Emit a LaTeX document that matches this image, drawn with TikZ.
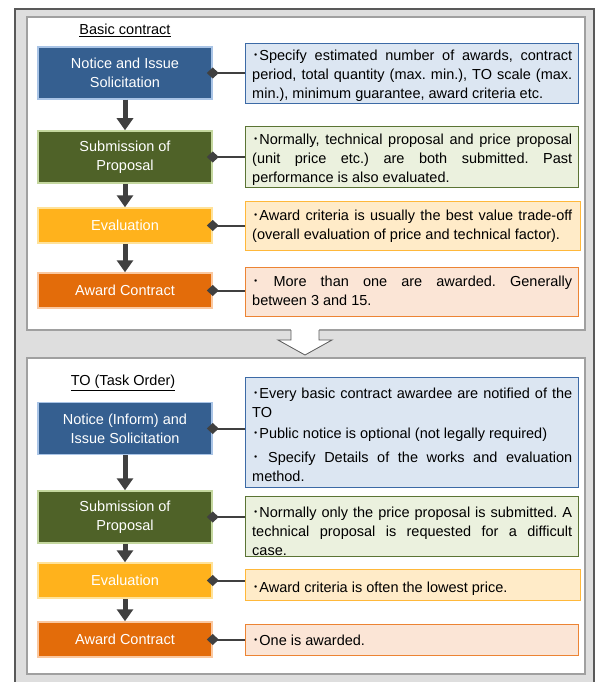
\documentclass[tikz,border=0pt]{standalone}
\usepackage{fontspec}
\setmainfont{Liberation Sans}
\newfontfamily\cjk{Noto Sans CJK JP}
\usetikzlibrary{arrows.meta}
\newcommand{\bul}{{\cjk ･}}
\frenchspacing
\definecolor{outerg}{HTML}{DEDEDE}
\definecolor{outerb}{HTML}{595959}
\definecolor{panelb}{HTML}{A0A0A0}
\definecolor{conncol}{HTML}{404040}
\definecolor{bluef}{HTML}{355F90}
\definecolor{blued}{HTML}{A9C4E6}
\definecolor{greenf}{HTML}{4F6228}
\definecolor{greend}{HTML}{C4D79E}
\definecolor{amberf}{HTML}{FFB21C}
\definecolor{amberd}{HTML}{FFE29A}
\definecolor{orangef}{HTML}{E36C0A}
\definecolor{oranged}{HTML}{FAC8A0}
\definecolor{rbluef}{HTML}{DCE6F2}
\definecolor{rblued}{HTML}{3C6AA6}
\definecolor{rgreenf}{HTML}{EBF1DE}
\definecolor{rgreend}{HTML}{5B7434}
\definecolor{ramberf}{HTML}{FFEBC8}
\definecolor{ramberd}{HTML}{FFB83A}
\definecolor{rorangef}{HTML}{FBE5D6}
\definecolor{roranged}{HTML}{EC8434}
\tikzset{
  lbox/.style={minimum width=174pt, minimum height=52pt, inner sep=0pt, text=white,
    align=center, font=\fontsize{14.5}{19}\selectfont, line width=1.5pt},
  rbox/.style={anchor=north west, inner sep=0pt, line width=1.2pt, minimum width=333pt},
  rtext/.style={anchor=base west, inner sep=0pt, text width=320pt, align=justify,
    font=\fontsize{14.5}{19}\selectfont},
  conn/.style={draw=conncol, line width=2pt, {Diamond[length=12pt,width=11pt]}-, shorten <=-6pt},
  darr/.style={draw=conncol, line width=5pt, -{Triangle[width=16pt,length=12pt]}},
  lab/.style={font=\fontsize{14.5}{17}\selectfont, inner sep=0pt}
}
\begin{document}
\begin{tikzpicture}[x=1pt,y=-1pt]
\useasboundingbox (0,0) rectangle (595,682);
\clip (0,0) rectangle (595,682);
\fill[white] (0,0) rectangle (595,682);
% outer frame and panels
\draw[fill=outerg, draw=outerb, line width=1.2pt] (15,9) rectangle (594,700);
\draw[fill=white, draw=panelb, line width=1.2pt] (27,17) rectangle (585,330);
\draw[fill=white, draw=panelb, line width=1.2pt] (27,358) rectangle (585,674);
% hollow arrow
\fill[white] (291,329) -- (291,340) -- (278,340) -- (305,355) -- (332,340) -- (319,340) -- (319,329) -- cycle;
\draw[draw=outerb, line width=0.8pt, line join=miter] (291,330) -- (291,340) -- (278,340) -- (305,355) -- (332,340) -- (319,340) -- (319,330);
% labels
\node[lab] (lab1) at (125,30) {\underline{Basic contract}};
\node[lab] (lab2) at (123,383) {\underline{TO (Task Order)}};
% left boxes
\node[lbox, fill=bluef, draw=blued] (B1) at (125,73) {Notice and Issue\\Solicitation};
\node[lbox, fill=greenf, draw=greend] (B2) at (125,157) {Submission of\\Proposal};
\node[lbox, fill=amberf, draw=amberd, minimum height=35pt] (B3) at (125,225.5) {Evaluation};
\node[lbox, fill=orangef, draw=oranged, minimum height=35pt] (B4) at (125,290.5) {Award Contract};
\node[lbox, fill=bluef, draw=blued] (B5) at (125,428.5) {Notice (Inform) and\\Issue Solicitation};
\node[lbox, fill=greenf, draw=greend] (B6) at (125,517) {Submission of\\Proposal};
\node[lbox, fill=amberf, draw=amberd, minimum height=35pt] (B7) at (125,580.5) {Evaluation};
\node[lbox, fill=orangef, draw=oranged, minimum height=35pt] (B8) at (125,639.5) {Award Contract};
% right boxes
\node[rbox, fill=rbluef, draw=rblued, minimum height=60pt] (R1) at (245,43) {};
\node[rbox, fill=rgreenf, draw=rgreend, minimum height=61pt] (R2) at (245,126) {};
\node[rbox, fill=ramberf, draw=ramberd, minimum height=49pt, minimum width=335pt] (R3) at (245,201) {};
\node[rbox, fill=rorangef, draw=roranged, minimum height=49pt] (R4) at (245,267) {};
\node[rbox, fill=rbluef, draw=rblued, minimum height=110pt] (R5) at (245,377) {};
\node[rbox, fill=rgreenf, draw=rgreend, minimum height=60pt] (R6) at (245,496) {};
\node[rbox, fill=ramberf, draw=ramberd, minimum height=31pt, minimum width=335pt] (R7) at (245,569) {};
\node[rbox, fill=rorangef, draw=roranged, minimum height=31pt] (R8) at (245,624) {};
% texts
\node[rtext] (T1) at (252,61) {\bul Specify estimated number of awards, contract\linebreak period, total quantity (max. min.), TO scale (max.\linebreak min.), minimum guarantee, award criteria etc.};
\node[rtext] (T2) at (252,144) {\bul Normally, technical proposal and price proposal\linebreak (unit price etc.) are both submitted. Past\linebreak performance is also evaluated.};
\node[rtext] (T3) at (252,220) {\bul Award criteria is usually the best value trade-off\linebreak (overall evaluation of price and technical factor).};
\node[rtext] (T4) at (252,286) {\bul\ More than one are awarded. Generally\linebreak between 3 and 15.};
\node[rtext] (T5) at (252,398) {\bul Every basic contract awardee are notified of the\linebreak TO\\[2pt]\bul Public notice is optional (not legally required)\\[5pt]\bul\ Specify Details of the works and evaluation\linebreak method.};
\node[rtext] (T6) at (252,517) {\bul Normally only the price proposal is submitted. A\linebreak technical proposal is requested for a difficult\linebreak case.};
\node[rtext] (T7) at (252,592) {\bul Award criteria is often the lowest price.};
\node[rtext] (T8) at (252,645) {\bul One is awarded.};
% down arrows
\draw[darr] (B1.south) -- (B2.north);
\draw[darr] (B2.south) -- (B3.north);
\draw[darr] (B3.south) -- (B4.north);
\draw[darr] (B5.south) -- (B6.north);
\draw[darr] (B6.south) -- (B7.north);
\draw[darr] (B7.south) -- (B8.north);
% connectors
\foreach \i in {1,...,8}{
  \draw[conn] (B\i.east) -- (B\i.east -| R\i.west);
}
\end{tikzpicture}
\end{document}
